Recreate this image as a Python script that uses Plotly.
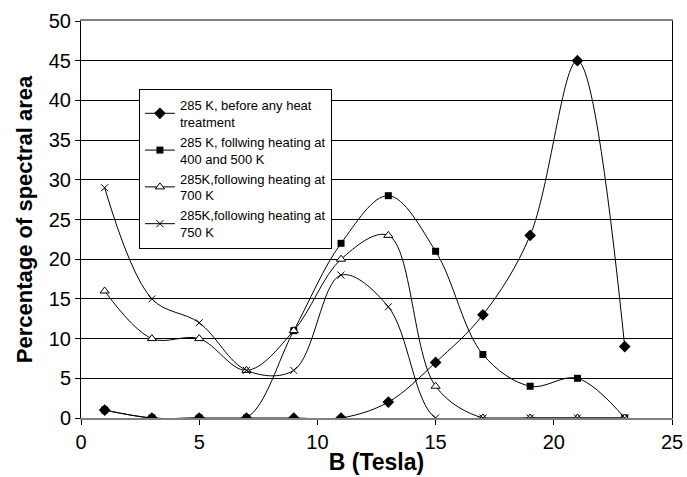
import plotly.graph_objects as go

B = [1, 3, 5, 7, 9, 11, 13, 15, 17, 19, 21, 23]
before_heat = [1, 0, 0, 0, 0, 0, 2, 7, 13, 23, 45, 9]
heat_400_500 = [1, 0, 0, 0, 11, 22, 28, 21, 8, 4, 5, 0]
heat_700 = [16, 10, 10, 6, 11, 20, 23, 4, 0, 0, 0, 0]
heat_750 = [29, 15, 12, 6, 6, 18, 14, 0, 0, 0, 0, 0]

names = [
    "285 K, before any heat<br>treatment",
    "285 K, follwing heating at<br>400 and 500 K",
    "285K,following heating at<br>700 K",
    "285K,following heating at<br>750 K",
]

FONT = "Liberation Sans, Arial, sans-serif"

fig = go.Figure()
fig.add_trace(go.Scatter(
    x=B, y=before_heat, name=names[0], mode="lines+markers",
    line=dict(color="black", width=1, shape="spline", smoothing=1),
    marker=dict(symbol="diamond", size=9, color="black")))
fig.add_trace(go.Scatter(
    x=B, y=heat_400_500, name=names[1], mode="lines+markers",
    line=dict(color="black", width=1, shape="spline", smoothing=1),
    marker=dict(symbol="square", size=7, color="black")))
fig.add_trace(go.Scatter(
    x=B, y=heat_700, name=names[2], mode="lines+markers",
    line=dict(color="black", width=1, shape="spline", smoothing=1),
    marker=dict(symbol="triangle-up", size=8, color="white",
                line=dict(color="black", width=1))))
fig.add_trace(go.Scatter(
    x=B, y=heat_750, name=names[3], mode="lines+markers",
    line=dict(color="black", width=1, shape="spline", smoothing=1),
    marker=dict(symbol="x-thin-open", size=7, color="black",
                line=dict(color="black", width=1))))

fig.update_layout(
    width=687, height=477,
    margin=dict(l=81, r=15, t=21, b=59, autoexpand=False),
    paper_bgcolor="white", plot_bgcolor="white",
    font=dict(family=FONT, color="black", size=20),
    showlegend=True,
    legend=dict(
        x=0.098, y=0.829, xanchor="left", yanchor="top",
        bgcolor="white", bordercolor="black", borderwidth=1,
        font=dict(family=FONT, size=13, color="black"),
        itemwidth=30, tracegroupgap=0,
    ),
    xaxis=dict(
        range=[0, 25], dtick=5, tick0=0,
        showgrid=False, zeroline=False, automargin=False,
        showline=True, linecolor="#808080", linewidth=2, mirror=True,
        ticks="outside", ticklen=5, tickcolor="black",
        tickfont=dict(size=20),
        title=dict(text="<b>B (Tesla)</b>", font=dict(size=23), standoff=2),
    ),
    yaxis=dict(
        range=[0, 50], dtick=5, tick0=0,
        showgrid=True, gridcolor="black", gridwidth=1,
        zeroline=False, automargin=False,
        showline=True, linecolor="black", linewidth=1, mirror=True,
        ticks="outside", ticklen=5, tickcolor="black",
        tickfont=dict(size=20),
        title=dict(text="<b>Percentage of spectral area</b>", font=dict(size=22), standoff=10),
    ),
)

fig.write_html("out.html")
